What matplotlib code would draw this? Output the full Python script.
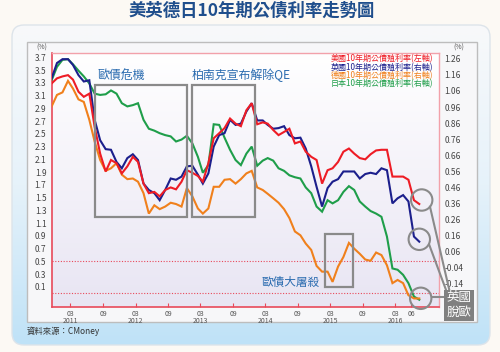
import numpy as np
import pandas as pd
import matplotlib
matplotlib.use('Agg')
import matplotlib.pyplot as plt
from matplotlib.patches import FancyBboxPatch, Rectangle, Circle
from matplotlib.colors import LinearSegmentedColormap

plt.rcParams['font.family'] = ['Noto Sans CJK TC', 'DejaVu Sans']
plt.rcParams['axes.unicode_minus'] = False

# ---------------------------------------------------------------
# Data (monthly, in left-axis units)
dates = pd.date_range('2010-11-01', periods=69, freq='MS') + pd.Timedelta(days=14)

us = [3.29, 3.37, 3.40, 3.42, 3.35, 3.16, 3.08, 3.13, 2.61, 2.19, 1.91, 2.09, 2.04, 1.88,
      1.99, 2.14, 2.06, 1.72, 1.57, 1.59, 1.52, 1.62, 1.66, 1.63, 1.75, 1.93, 1.89, 1.84,
      1.75, 2.04, 2.43, 2.51, 2.59, 2.74, 2.66, 2.62, 2.87, 2.98, 2.65, 2.68, 2.66, 2.56,
      2.48, 2.53, 2.58, 2.35, 2.38, 2.22, 2.14, 2.09, 1.72, 1.93, 1.96, 2.06, 2.22, 2.27,
      2.19, 2.12, 2.10, 2.18, 2.24, 2.25, 2.25, 1.83, 1.83, 1.83, 1.78, 1.46, 1.40]
uk = [3.37, 3.61, 3.67, 3.67, 3.58, 3.42, 3.32, 3.34, 2.72, 2.40, 2.26, 2.25, 2.06, 1.96,
      2.12, 2.18, 2.09, 1.72, 1.62, 1.57, 1.46, 1.62, 1.80, 1.78, 1.83, 1.99, 2.00, 1.86,
      1.72, 1.88, 2.30, 2.48, 2.51, 2.72, 2.64, 2.66, 2.85, 2.98, 2.71, 2.71, 2.64, 2.58,
      2.59, 2.62, 2.48, 2.43, 2.44, 2.27, 1.99, 1.67, 1.36, 1.65, 1.75, 1.79, 1.91, 1.91,
      1.91, 1.80, 1.87, 1.89, 1.87, 1.96, 1.93, 1.41, 1.49, 1.54, 1.44, 0.89, 0.81]
de = [2.93, 3.11, 3.15, 3.33, 3.21, 3.04, 3.00, 2.72, 2.38, 2.09, 1.92, 1.96, 2.04, 1.86,
      1.79, 1.80, 1.75, 1.57, 1.25, 1.38, 1.32, 1.36, 1.42, 1.40, 1.36, 1.65, 1.52, 1.33,
      1.25, 1.33, 1.67, 1.67, 1.78, 1.79, 1.72, 1.79, 1.88, 1.92, 1.66, 1.62, 1.56, 1.49,
      1.42, 1.32, 1.18, 0.97, 0.91, 0.78, 0.68, 0.43, 0.34, 0.34, 0.18, 0.42, 0.57, 0.79,
      0.70, 0.62, 0.53, 0.51, 0.64, 0.60, 0.44, 0.16, 0.21, 0.16, -0.03, -0.08, -0.08]
jp = [3.34, 3.55, 3.66, 3.67, 3.59, 3.49, 3.40, 3.29, 3.13, 3.11, 3.12, 3.18, 3.13, 2.98,
      2.93, 2.95, 2.98, 2.72, 2.58, 2.55, 2.51, 2.48, 2.46, 2.38, 2.41, 2.47, 2.35, 2.14,
      1.89, 2.01, 2.65, 2.64, 2.44, 2.25, 2.09, 2.01, 2.19, 2.30, 2.00, 2.08, 2.12, 2.08,
      1.96, 1.92, 1.85, 1.82, 1.80, 1.66, 1.57, 1.36, 1.28, 1.46, 1.41, 1.46, 1.59, 1.68,
      1.62, 1.44, 1.36, 1.29, 1.25, 1.20, 0.89, 0.39, 0.37, 0.29, 0.16, -0.05, -0.10]

names = ['美國10年期公債殖利率(左軸)', '英國10年期公債殖利率(右軸)',
         '德國10年期公債殖利率(右軸)', '日本10年期公債殖利率(右軸)']
colors = ['#ee1c25', '#1c1f8c', '#f0801c', '#1f9e4a']

left_ticks = [3.7, 3.5, 3.3, 3.1, 2.9, 2.7, 2.5, 2.3, 2.1, 1.9, 1.7, 1.5, 1.3, 1.1, 0.9, 0.7, 0.5, 0.3, 0.1]
right_ticks = [1.26, 1.16, 1.06, 0.96, 0.86, 0.76, 0.66, 0.56, 0.46, 0.36, 0.26, 0.16, 0.06, -0.04, -0.14]
x_ticks = pd.to_datetime(['2011-03-01', '2011-09-01', '2012-03-01', '2012-09-01', '2013-03-01',
                          '2013-09-01', '2014-03-01', '2014-09-01', '2015-03-01', '2015-09-01',
                          '2016-03-01', '2016-06-01'])
x_labels = ['03\n2011', '09', '03\n2012', '09', '03\n2013', '09', '03\n2014', '09',
            '03\n2015', '09', '03\n2016', '06']

# ---------------------------------------------------------------
fig = plt.figure(figsize=(5, 3.52), dpi=100)
fig.patch.set_facecolor('#fcf9f4')

# background panel (pixel coordinates)
bg = fig.add_axes([0, 0, 1, 1])
bg.axis('off')
panel = FancyBboxPatch((12, 25), 478, 320, boxstyle='round,pad=0,rounding_size=12',
                       fc='none', ec='#dde4ea', lw=1)
bg.add_patch(panel)
grad = np.linspace(0, 1, 256).reshape(-1, 1)
cm_panel = LinearSegmentedColormap.from_list('p', ['#f8f9fa', '#e6f2fa', '#bfe2f7'])
im = bg.imshow(grad, extent=(12, 490, 345, 25), cmap=cm_panel, aspect='auto', zorder=0)
im.set_clip_path(panel)
bg.add_patch(Rectangle((27, 41.7), 450, 280, fc='#f7f7f9', ec='#bdbdbd', lw=1.0, zorder=1))
bg.set_xlim(0, 500)
bg.set_ylim(352, 0)

# main chart
ax = fig.add_axes([52 / 500, 45 / 352, 387 / 500, 254 / 352])
cm_ax = LinearSegmentedColormap.from_list('a', ['#ffffff', '#f4f2f9', '#e8e5f3'])
ax.imshow(grad, extent=(0, 1, 0, 1), transform=ax.transAxes, cmap=cm_ax, aspect='auto', zorder=0)

for vals, c in zip([jp, de, uk, us], [colors[3], colors[2], colors[1], colors[0]]):
    ax.plot(dates, vals, color=c, lw=1.5, zorder=3, solid_joinstyle='miter')

ax.axhline(0.5, color='#e8495a', lw=0.8, ls=(0, (1, 1.5)), zorder=2)
ax.axhline(0.0, color='#e8495a', lw=0.8, ls=(0, (1, 1.5)), zorder=2)

ax.set_xlim(pd.Timestamp('2010-11-17'), pd.Timestamp('2016-11-03'))
ax.set_ylim(-0.214, 3.767)
ax.set_xticks(x_ticks)
ax.set_xticklabels(x_labels, linespacing=0.85)
ax.set_yticks(left_ticks)
ax.set_yticklabels([f'{v:.1f}' for v in left_ticks])
ax.tick_params(axis='x', direction='in', length=3, width=0.8, color='#e8495a',
               labelsize=5, labelcolor='#555555', pad=2)
ax.tick_params(axis='y', length=0, labelsize=6, labelcolor='#444444', pad=4)
for s in ['left', 'bottom']:
    ax.spines[s].set_color('#e8495a')
    ax.spines[s].set_linewidth(1.2)
for s in ['top', 'right']:
    ax.spines[s].set_color('#f2a1aa')
    ax.spines[s].set_linewidth(1.0)

ax2 = ax.twinx()
ax2.set_ylim(-0.288, 1.297)
ax2.set_yticks(right_ticks)
ax2.set_yticklabels([f'{v:.2f}' for v in right_ticks])
ax2.tick_params(axis='y', length=0, labelsize=6, labelcolor='#444444', pad=4)
for s in ax2.spines.values():
    s.set_visible(False)

# overlay for annotations (pixel coordinates)
ov = fig.add_axes([0, 0, 1, 1])
ov.axis('off')
ov.set_xlim(0, 500)
ov.set_ylim(352, 0)

ov.text(252, 11, '美英德日10年期公債利率走勢圖', fontsize=12.5, fontweight='bold',
        color='#1f4e8c', ha='center', va='center')
ov.text(42, 47.5, '(%)', fontsize=5, color='#555555', ha='center', va='center')
ov.text(459, 47.5, '(%)', fontsize=5, color='#555555', ha='center', va='center')
ov.text(27, 331, '資料來源：CMoney', fontsize=6, color='#333333', ha='left', va='center')

for i, (n, c) in enumerate(zip(names, colors)):
    ov.text(433, 59 + i * 8.3, n, fontsize=5.8, color=c, ha='right', va='center')

box_col = '#8a8a8a'
ov.add_patch(Rectangle((95, 85), 91.7, 131.7, fill=False, ec=box_col, lw=1.6))
ov.add_patch(Rectangle((191.7, 85), 63.3, 131.7, fill=False, ec=box_col, lw=1.6))
ov.add_patch(Rectangle((325.3, 234), 28, 52.5, fill=False, ec=box_col, lw=1.6))

txt_col = '#2b6cb0'
ov.text(97, 75, '歐債危機', fontsize=8.6, color=txt_col, ha='left', va='center')
ov.text(191.7, 75, '柏南克宣布解除QE', fontsize=8.6, color=txt_col, ha='left', va='center')
ov.text(262, 282, '歐債大屠殺', fontsize=8.4, color=txt_col, ha='left', va='center')

for cx, cy in [(421.7, 200), (419.3, 239.3), (420.7, 298.3)]:
    ov.add_patch(Circle((cx, cy), 10.7, fill=False, ec=box_col, lw=1.5, zorder=5))
ov.plot([430, 449.3], [206.7, 290], color=box_col, lw=1.5)
ov.plot([429.3, 446.7], [245, 291.7], color=box_col, lw=1.5)
ov.plot([431.5, 445], [296.7, 296.7], color=box_col, lw=1.5)
ov.add_patch(Rectangle((444.3, 290), 29.7, 30.7, fc='#808080', ec='none', zorder=6))
ov.text(459.2, 297.8, '英國', fontsize=9, color='white', ha='center', va='center', zorder=7)
ov.text(459.2, 312.6, '脫歐', fontsize=9, color='white', ha='center', va='center', zorder=7)

fig.savefig('out.png', dpi=100, facecolor=fig.get_facecolor())
